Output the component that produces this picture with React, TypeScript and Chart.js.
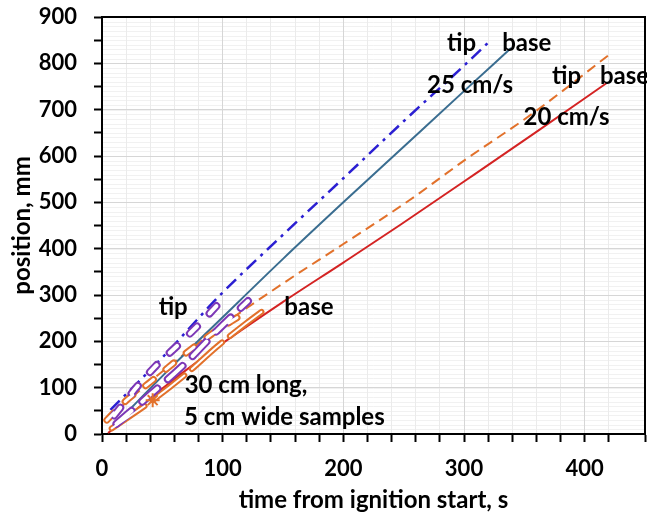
import React, { useEffect, useRef } from 'react';
import { Chart, registerables } from 'chart.js';
Chart.register(...registerables);

// ---- data (time s, position mm) ----
const blueTipT = [7, 50, 98, 150, 200, 250, 300, 323];
const blueTipP = [52, 165, 300, 430, 552, 675, 795, 852];
const tealBaseT = [10, 50, 100, 150, 200, 250, 300, 339];
const tealBaseP = [18, 125, 252, 378, 500, 620, 740, 833];
const orangeTipT = [5, 50, 100, 150, 200, 255, 300, 357, 422];
const orangeTipP = [34, 135, 235, 325, 410, 505, 590, 692, 822];
const redBaseT = [5, 41, 92, 150, 200, 247, 300, 360, 418];
const redBaseP = [2, 80, 181, 285, 370, 451, 545, 652, 757];
const purpleTipT = [10, 30, 45, 65, 84, 99];
const purpleTipP = [40, 105, 148, 197, 246, 288];
const purpleBaseT = [12, 40, 70, 95, 121];
const purpleBaseP = [22, 85, 155, 222, 287];
const orangeShortTipT = [4, 20, 40, 65, 90, 116];
const orangeShortTipP = [30, 72, 112, 165, 214, 258];
const orangeShortBaseT = [8, 42, 70, 95, 120, 136];
const orangeShortBaseP = [12, 73, 130, 188, 240, 271];
const starT = [42];
const starP = [73];

const xMin = 0, xMax = 450, xStep = 20, xMajor = 100;
const yMin = 0, yMax = 900, yStep = 50, yMajor = 100, yFaint = 10;

const annotations = [
  { text: 'tip', x: 298, y: 844, align: 'center' },
  { text: 'base', x: 352, y: 844, align: 'center' },
  { text: '25 cm/s', x: 305, y: 753, align: 'center' },
  { text: 'tip', x: 385, y: 773, align: 'center' },
  { text: 'base', x: 433, y: 773, align: 'center' },
  { text: '20 cm/s', x: 385, y: 684, align: 'center' },
  { text: 'tip', x: 59, y: 274, align: 'center' },
  { text: 'base', x: 171.5, y: 274, align: 'center' },
  { text: '30 cm long,', x: 68.5, y: 106, align: 'left' },
  { text: '5 cm wide samples', x: 68, y: 37, align: 'left' },
];

const pts = (t: number[], p: number[]) => t.map((v, i) => ({ x: v, y: p[i] }));

const FONT = 'Lato';

export default function App() {
  const ref = useRef<HTMLCanvasElement | null>(null);
  useEffect(() => {
    document.body.style.margin = '0';
    const canvas = ref.current!;
    const line = (data: any, color: string, width: number, dash: number[], order: number, cap = 'butt') => ({
      data, borderColor: color, backgroundColor: color, borderWidth: width, borderDash: dash,
      borderCapStyle: cap, borderJoinStyle: 'round', showLine: true, pointRadius: 0, fill: false, order,
      cubicInterpolationMode: 'monotone',
    });
    const purple = '#7d38b6';
    const orange = '#e2712b';
    const zeroPad = (s: any) => { s.paddingTop = 0; s.paddingBottom = 0; s.paddingLeft = 0; s.paddingRight = 0; };
    const bgPlugin = {
      id: 'bg',
      beforeDraw(chart: any) {
        const { ctx, chartArea: a, scales } = chart;
        ctx.save();
        ctx.fillStyle = '#fff';
        ctx.fillRect(0, 0, chart.width, chart.height);
        ctx.strokeStyle = '#f1f1f1';
        ctx.lineWidth = 1;
        for (let v = yMin; v <= yMax; v += yFaint) {
          const y = Math.round(scales.y.getPixelForValue(v)) + 0.5;
          ctx.beginPath();
          ctx.moveTo(a.left, y);
          ctx.lineTo(a.right, y);
          ctx.stroke();
        }
        ctx.restore();
      },
      beforeDatasetsDraw(chart: any) {
        const { ctx, chartArea: a } = chart;
        ctx.save();
        ctx.strokeStyle = '#000';
        ctx.lineWidth = 2;
        ctx.strokeRect(a.left, a.top, a.right - a.left, a.bottom - a.top);
        ctx.restore();
      },
      afterDatasetsDraw(chart: any) {
        const { ctx, scales } = chart;
        ctx.save();
        ctx.fillStyle = '#000';
        ctx.font = `bold 24px ${FONT}`;
        ctx.textBaseline = 'middle';
        for (const an of annotations) {
          ctx.textAlign = an.align as CanvasTextAlign;
          ctx.fillText(an.text, scales.x.getPixelForValue(an.x), scales.y.getPixelForValue(an.y));
        }
        ctx.restore();
      },
    };
    const chart = new Chart(canvas, {
      type: 'scatter',
      data: {
        datasets: [
          line(pts(blueTipT, blueTipP), '#2b1fd2', 2.5, [13, 6, 3, 6], 10),
          line(pts(tealBaseT, tealBaseP), '#3a6d90', 2, [], 10),
          line(pts(orangeTipT, orangeTipP), orange, 2, [10, 6], 10),
          line(pts(redBaseT, redBaseP), '#d42323', 2, [], 10),
          line(pts(purpleTipT, purpleTipP), purple, 8, [10, 18], 8, 'round'),
          line(pts(purpleTipT, purpleTipP), '#ffffff', 4, [10, 18], 7, 'round'),
          line(pts(purpleBaseT, purpleBaseP), purple, 8, [20, 14], 8, 'round'),
          line(pts(purpleBaseT, purpleBaseP), '#ffffff', 4, [20, 14], 7, 'round'),
          line(pts(orangeShortTipT, orangeShortTipP), orange, 7, [10, 16], 8, 'round'),
          line(pts(orangeShortTipT, orangeShortTipP), '#ffffff', 3, [10, 16], 7, 'round'),
          line(pts(orangeShortBaseT, orangeShortBaseP), orange, 6, [40, 10], 8, 'round'),
          line(pts(orangeShortBaseT, orangeShortBaseP), '#ffffff', 2, [40, 10], 7, 'round'),
          {
            data: pts(starT, starP), showLine: false, pointStyle: 'star', pointRadius: 7,
            borderColor: orange, backgroundColor: orange, pointBorderWidth: 2, order: 1,
          },
        ] as any,
      },
      options: {
        animation: false,
        responsive: false,
        devicePixelRatio: 1,
        layout: { autoPadding: false, padding: { top: 17, right: 2, left: 0, bottom: 0 } },
        plugins: { legend: { display: false }, tooltip: { enabled: false } },
        scales: {
          x: {
            type: 'linear', min: xMin, max: xMax,
            afterFit: (s: any) => { s.height = 85; zeroPad(s); },
            ticks: {
              stepSize: xStep, autoSkip: false, maxRotation: 0, padding: 14,
              color: '#000', font: { family: FONT, size: 22, weight: 'bold' },
              callback: (v: any) => (v % xMajor === 0 ? String(v) : ''),
            },
            grid: {
              color: (c: any) => (c.tick && c.tick.value % xMajor === 0 ? '#d6d6d6' : '#ebebeb'),
              tickColor: '#000', tickLength: 8, tickWidth: 2, lineWidth: 1,
            },
            border: { color: '#000', width: 2 },
            title: {
              display: true, text: 'time from ignition start, s', color: '#000',
              font: { family: FONT, size: 24, weight: 'bold' }, padding: { top: 0, bottom: 4 },
            },
          },
          y: {
            type: 'linear', min: yMin, max: yMax,
            afterFit: (s: any) => { s.width = 102; zeroPad(s); },
            ticks: {
              stepSize: yStep, autoSkip: false, padding: 17,
              color: '#000', font: { family: FONT, size: 22, weight: 'bold' },
              callback: (v: any) => (v % yMajor === 0 ? String(v) : ''),
            },
            grid: {
              color: (c: any) => (c.tick && c.tick.value % yMajor === 0 ? '#d6d6d6' : 'rgba(0,0,0,0)'),
              tickColor: '#000', tickLength: 8, tickWidth: 2, lineWidth: 1,
            },
            border: { color: '#000', width: 2 },
            title: {
              display: true, text: 'position, mm', color: '#000',
              font: { family: FONT, size: 24, weight: 'bold' }, padding: { top: 8, bottom: 0 },
            },
          },
        },
      } as any,
      plugins: [bgPlugin],
    });
    return () => chart.destroy();
  }, []);
  return (
    <div style={{ width: 647, height: 519 }}>
      <canvas ref={ref} width={647} height={519} style={{ display: 'block' }} />
    </div>
  );
}
